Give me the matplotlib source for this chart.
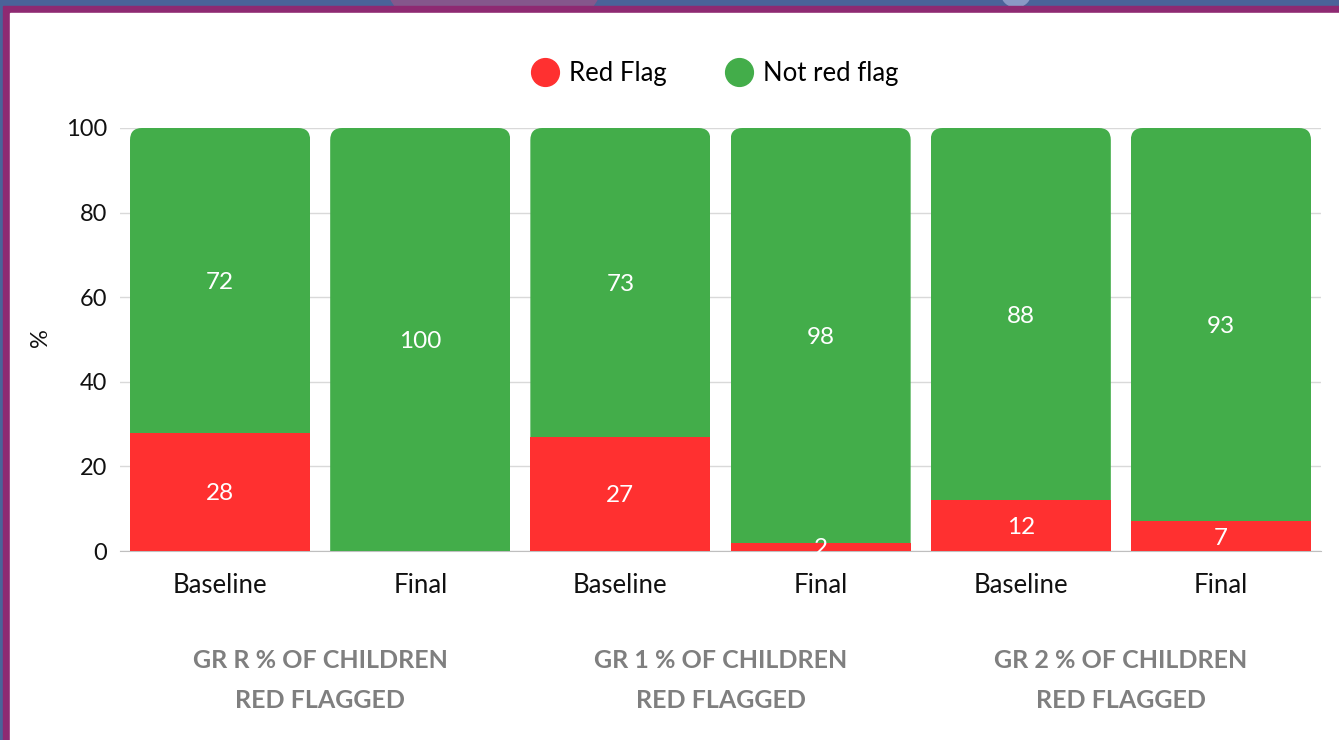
import matplotlib
matplotlib.use("Agg")
import matplotlib.pyplot as plt
from matplotlib.patches import Rectangle, FancyBboxPatch, Circle
from matplotlib.lines import Line2D
import matplotlib.transforms as mtransforms

plt.rcParams['font.family'] = ['Lato', 'DejaVu Sans']

# ---- data ----
bar_labels = ["Baseline", "Final", "Baseline", "Final", "Baseline", "Final"]
group_labels = ["GR R % OF CHILDREN\nRED FLAGGED",
                "GR 1 % OF CHILDREN\nRED FLAGGED",
                "GR 2 % OF CHILDREN\nRED FLAGGED"]
red_flag = [28, 0, 27, 2, 12, 7]
not_red_flag = [72, 100, 73, 98, 88, 93]
series_names = ["Red Flag", "Not red flag"]
yticks = [0, 20, 40, 60, 80, 100]

RED = "#FF3030"
GREEN = "#43AD4A"
W, H = 1339, 740

fig = plt.figure(figsize=(W / 100, H / 100), dpi=100)
fig.patch.set_facecolor("#4A6399")

# frame decorations (pixel coords)
fig.add_artist(Circle((494, H + 60), 119, transform=None, color="#85578C", zorder=-9))
fig.add_artist(Circle((1016, H + 8), 15, transform=None, color="#8A99C5", zorder=-9))
fig.add_artist(Rectangle((3, 0), W, H - 6, transform=None, color="#8E2A72", zorder=-8))
fig.add_artist(Rectangle((10, 0), W, H - 13, transform=None, color="white", zorder=-7))

ax_left, ax_right = 120, 1321
ax_bottom, ax_top = 551, 128
ax = fig.add_axes([ax_left / W, (H - ax_bottom) / H,
                   (ax_right - ax_left) / W, (ax_bottom - ax_top) / H])
ax.set_facecolor("none")

x = list(range(len(bar_labels)))
bw = 0.9
red_bars = ax.bar(x, red_flag, width=bw, color=RED, zorder=2)
green_bars = ax.bar(x, not_red_flag, width=bw, bottom=red_flag, color=GREEN, zorder=2)

ax.set_xlim(-0.5, len(x) - 0.5)
ax.set_ylim(0, 100)

# rounded top corners for the green segments
px_per_x = (ax_right - ax_left) / len(x)
px_per_y = (ax_bottom - ax_top) / 100
r_px = 12
rx = r_px / px_per_x
aspect = (r_px / px_per_y) / rx
for b in green_bars:
    x0, y0 = b.get_x(), b.get_y()
    w, h = b.get_width(), b.get_height()
    clip = FancyBboxPatch((x0, y0 - 10), w, h + 10,
                          boxstyle=f"round,pad=0,rounding_size={rx}",
                          mutation_aspect=aspect, transform=ax.transData)
    b.set_clip_path(clip)

# value labels
for i in x:
    if red_flag[i] > 0:
        ax.text(i, red_flag[i] / 2, str(red_flag[i]), ha="center", va="center_baseline",
                color="white", fontsize=17.5, zorder=3)
    ax.text(i, red_flag[i] + not_red_flag[i] / 2, str(not_red_flag[i]),
            ha="center", va="center_baseline", color="white", fontsize=17.5, zorder=3)

# axes styling
ax.set_yticks(yticks)
ax.set_yticklabels([str(v) for v in yticks], fontsize=17, color="#111111")
ax.set_xticks(x)
ax.set_xticklabels(bar_labels, fontsize=18.5, color="#111111")
ax.tick_params(axis="both", length=0)
ax.tick_params(axis="y", pad=9)
ax.tick_params(axis="x", pad=16)
ax.grid(axis="y", color="#D9D9D9", linewidth=1)
ax.set_axisbelow(True)
for s in ["top", "right", "left"]:
    ax.spines[s].set_visible(False)
ax.spines["bottom"].set_color("#BFBFBF")
ax.spines["bottom"].set_zorder(1)

fig.text(40 / W, 1 - 338 / H, "%", rotation=90, ha="center", va="center",
         fontsize=17, color="#111111")

# group labels
trans = mtransforms.blended_transform_factory(ax.transData, fig.transFigure)
for g, lab in enumerate(group_labels):
    line1, line2 = lab.split("\n")
    cx = (2 * g + 2 * g + 1) / 2
    ax.text(cx, 1 - 661 / H, line1, transform=trans, ha="center", va="center",
            fontsize=18, fontweight="bold", color="#7F7F7F")
    ax.text(cx, 1 - 701 / H, line2, transform=trans, ha="center", va="center",
            fontsize=18, fontweight="bold", color="#7F7F7F")

# legend
handles = [Line2D([], [], linestyle="none", marker="o", markersize=20,
                  markerfacecolor=RED, markeredgecolor=RED),
           Line2D([], [], linestyle="none", marker="o", markersize=20,
                  markerfacecolor=GREEN, markeredgecolor=GREEN)]
fig.legend(handles, series_names, loc="center", bbox_to_anchor=(714 / W, 1 - 73 / H),
           ncol=2, frameon=False, fontsize=18.5, handletextpad=0.35,
           columnspacing=2.2, handlelength=1.2)

fig.savefig("out.png", dpi=100)
